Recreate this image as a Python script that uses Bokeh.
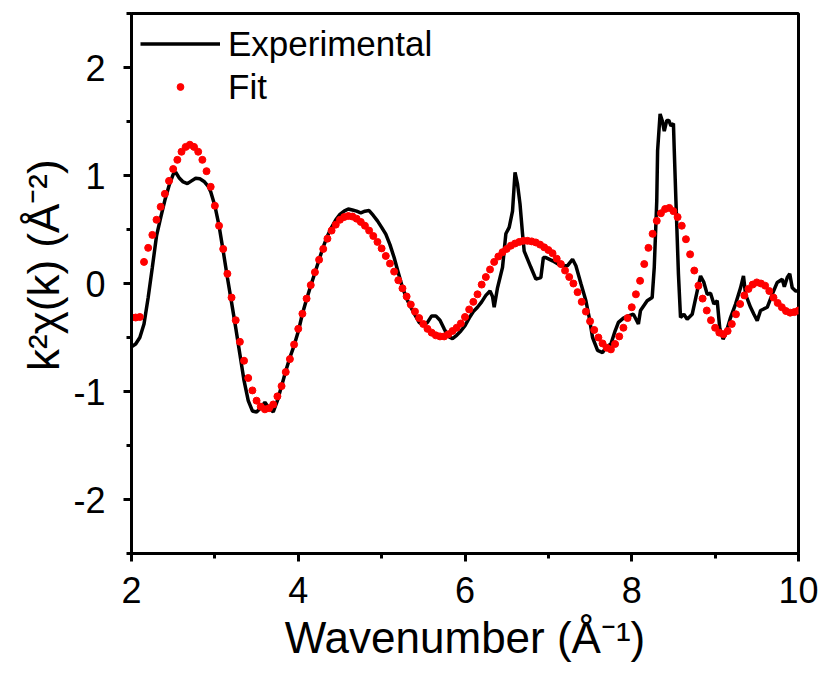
import numpy as np
from bokeh.plotting import figure
from bokeh.models import Range1d, FixedTicker
from bokeh.embed import file_html
from bokeh.resources import INLINE

# ---- data ----
# Fit: sampled every 0.05 from k = 2.00 to 10.00
fit_y = [
    -0.315, -0.315, -0.31, 0.20, 0.33, 0.45, 0.59, 0.71, 0.83, 0.95,      # 2.00-2.45
    1.06, 1.145, 1.22, 1.265, 1.285, 1.265, 1.22, 1.145, 1.04, 0.895,     # 2.50-2.95
    0.72, 0.535, 0.32, 0.09, -0.13, -0.34, -0.54, -0.715, -0.875, -0.99,  # 3.00-3.45
    -1.085, -1.14, -1.165, -1.155, -1.12, -1.045, -0.95, -0.82, -0.70, -0.565,  # 3.50-3.95
    -0.42, -0.28, -0.14, -0.015, 0.105, 0.22, 0.32, 0.415, 0.49, 0.545,  # 4.00-4.45
    0.59, 0.615, 0.625, 0.62, 0.60, 0.57, 0.535, 0.49, 0.44, 0.385,      # 4.50-4.95
    0.325, 0.255, 0.185, 0.11, 0.03, -0.045, -0.12, -0.195, -0.26, -0.32,  # 5.00-5.45
    -0.375, -0.42, -0.455, -0.48, -0.49, -0.49, -0.47, -0.44, -0.41, -0.37,  # 5.50-5.95
    -0.31, -0.24, -0.17, -0.10, -0.01, 0.06, 0.13, 0.20, 0.25, 0.29,     # 6.00-6.45
    0.32, 0.35, 0.37, 0.385, 0.395, 0.395, 0.39, 0.38, 0.36, 0.335,      # 6.50-6.95
    0.31, 0.28, 0.23, 0.18, 0.12, 0.06, 0.0, -0.08, -0.17, -0.26,        # 7.00-7.45
    -0.35, -0.43, -0.50, -0.555, -0.595, -0.61, -0.56, -0.49, -0.41, -0.32,  # 7.50-7.95
    -0.22, -0.10, 0.025, 0.18, 0.33, 0.46, 0.58, 0.65, 0.69, 0.70,       # 8.00-8.45
    0.67, 0.615, 0.535, 0.41, 0.27, 0.12, -0.02, -0.14, -0.25, -0.34,    # 8.50-8.95
    -0.41, -0.455, -0.47, -0.44, -0.375, -0.285, -0.19, -0.11, -0.05, -0.01,  # 9.00-9.45
    0.01, 0.0, -0.02, -0.07, -0.13, -0.18, -0.22, -0.255, -0.27, -0.265,  # 9.50-9.95
    -0.25,                                                                 # 10.00
]
fit_k = np.round(2.0 + 0.05 * np.arange(len(fit_y)), 3)

# Experimental: points
exp_k = [
    2.00, 2.05, 2.10, 2.15, 2.20, 2.25, 2.30, 2.35, 2.40, 2.45,
    2.50, 2.53, 2.57, 2.62, 2.67, 2.72, 2.77, 2.82, 2.87, 2.92,
    2.95, 3.00, 3.05, 3.10, 3.15, 3.20, 3.25, 3.30, 3.35, 3.40,
    3.45, 3.50, 3.55, 3.60, 3.65, 3.70, 3.75, 3.80, 3.85, 3.90,
    3.95, 4.00, 4.05, 4.10, 4.15, 4.20, 4.25, 4.30, 4.35, 4.40,
    4.45, 4.50, 4.55, 4.60, 4.65, 4.70, 4.75, 4.80, 4.85, 4.90,
    4.95, 5.00, 5.05, 5.10, 5.15, 5.20, 5.25, 5.30, 5.35, 5.40,
    5.45, 5.50, 5.55, 5.60, 5.65, 5.70, 5.75, 5.80, 5.85, 5.90,
    5.95, 6.00, 6.05, 6.10, 6.15, 6.20, 6.25, 6.30, 6.33, 6.35,
    6.39, 6.45, 6.49, 6.53, 6.57, 6.60, 6.63, 6.66, 6.69, 6.71,
    6.79, 6.85, 6.91, 6.94, 6.97, 7.05, 7.15, 7.23,
    7.29, 7.33, 7.39, 7.45, 7.49, 7.53, 7.59, 7.65, 7.69, 7.75,
    7.80, 7.84, 7.90, 7.96, 8.02, 8.08, 8.105, 8.185, 8.245, 8.27,
    8.30, 8.31, 8.34, 8.365, 8.39, 8.42, 8.445, 8.47, 8.50, 8.51,
    8.53, 8.56, 8.585, 8.625, 8.665, 8.725, 8.785, 8.825, 8.865, 8.905,
    8.945, 8.985, 9.025, 9.055, 9.095, 9.125, 9.185, 9.245, 9.305, 9.34,
    9.365, 9.425, 9.465, 9.505, 9.545, 9.625, 9.685, 9.745, 9.805, 9.83,
    9.865, 9.895, 9.925, 9.965, 10.00,
]
exp_y = [
    -0.585, -0.56, -0.50, -0.375, -0.13, 0.15, 0.44, 0.61, 0.77, 0.905,
    1.01, 1.03, 0.98, 0.94, 0.925, 0.95, 0.975, 0.97, 0.945, 0.90,
    0.85, 0.72, 0.535, 0.30, 0.055, -0.175, -0.41, -0.655, -0.90, -1.085,
    -1.18, -1.19, -1.15, -1.10, -1.155, -1.19, -1.085, -0.95, -0.81, -0.685,
    -0.575, -0.445, -0.28, -0.145, -0.02, 0.10, 0.22, 0.34, 0.44, 0.52,
    0.59, 0.64, 0.67, 0.69, 0.68, 0.67, 0.655, 0.67, 0.675, 0.63,
    0.58, 0.52, 0.457, 0.36, 0.24, 0.10, -0.037, -0.14, -0.22, -0.29,
    -0.36, -0.39, -0.36, -0.30, -0.30, -0.34, -0.42, -0.49, -0.51, -0.48,
    -0.44, -0.39, -0.32, -0.26, -0.22, -0.17, -0.11, -0.07, -0.12, -0.22,
    -0.04, 0.15, 0.46, 0.52, 0.67, 1.03, 0.92, 0.735, 0.46, 0.30,
    0.15, 0.04, 0.055, 0.24, 0.24, 0.21, 0.165, 0.165,
    0.225, 0.165, 0.0, -0.16, -0.315, -0.50, -0.62, -0.64, -0.59, -0.56,
    -0.44, -0.36, -0.32, -0.30, -0.285, -0.375, -0.25, -0.16, -0.13, 0.15,
    0.765, 1.23, 1.57, 1.51, 1.41, 1.51, 1.51, 1.46, 1.48, 1.23,
    0.765, 0.087, -0.315, -0.285, -0.33, -0.285, -0.07, 0.07, 0.01, -0.10,
    -0.09, -0.19, -0.16, -0.41, -0.515, -0.47, -0.315, -0.19, -0.04, 0.07,
    -0.10, -0.22, -0.285, -0.345, -0.25, -0.22, -0.10, 0.01, 0.04, -0.03,
    0.055, 0.09, -0.04, -0.07, -0.07,
]

x_major = [2, 4, 6, 8, 10]
x_minor = [3, 5, 7, 9]
y_major = [-2, -1, 0, 1, 2]
y_minor = [-2.5, -1.5, -0.5, 0.5, 1.5, 2.5]
y_tick_text = ["-2", "-1", "0", "1", "2"]

FONT = "Liberation Sans"

p = figure(width=822, height=675, output_backend="svg", toolbar_location=None,
           x_range=Range1d(2, 10), y_range=Range1d(-2.5, 2.5),
           min_border_left=131, min_border_right=24,
           min_border_top=13, min_border_bottom=122)

p.background_fill_color = "white"
p.border_fill_color = "white"
p.xgrid.visible = False
p.ygrid.visible = False
p.outline_line_color = "black"
p.outline_line_width = 3
p.outline_line_alpha = 1

p.line(exp_k, exp_y, line_color="black", line_width=3.5, legend_label="Experimental")
p.scatter(fit_k, fit_y, size=7, fill_color="red", line_color="red",
          legend_label="Fit")

p.xaxis.ticker = FixedTicker(ticks=x_major, minor_ticks=x_minor)
p.yaxis.ticker = FixedTicker(ticks=y_major, minor_ticks=y_minor)
p.yaxis.major_label_overrides = {v: t for v, t in zip(y_major, y_tick_text)}

for ax in (p.xaxis, p.yaxis):
    ax.axis_line_width = 3
    ax.axis_line_color = "black"
    ax.major_tick_line_width = 3
    ax.minor_tick_line_width = 3
    ax.major_tick_line_color = "black"
    ax.minor_tick_line_color = "black"
    ax.major_tick_out = 8
    ax.major_tick_in = 0
    ax.minor_tick_out = 5
    ax.minor_tick_in = 0
    ax.major_label_text_font = FONT
    ax.major_label_text_font_size = "36px"
    ax.major_label_text_color = "black"
    ax.axis_label_text_font = FONT
    ax.axis_label_text_font_size = "44px"
    ax.axis_label_text_font_style = "normal"
    ax.axis_label_text_color = "black"

p.xaxis.axis_label = "Wavenumber (Å⁻¹)"
p.yaxis.axis_label = "\u00a0\u00a0\u00a0k²χ(k) (Å⁻²)"
p.xaxis.major_label_standoff = 15
p.yaxis.major_label_standoff = 18
p.xaxis.axis_label_standoff = 7
p.yaxis.axis_label_standoff = 2

lg = p.legend[0]
lg.location = "top_left"
lg.border_line_alpha = 0
lg.background_fill_alpha = 0
lg.margin = 0
lg.padding = 9
lg.spacing = 0
lg.glyph_width = 80
lg.glyph_height = 17
lg.label_height = 43
lg.label_standoff = 8
lg.label_text_font = FONT
lg.label_text_font_size = "35px"
lg.label_text_color = "black"

open("out.html", "w").write(file_html(p, INLINE))
